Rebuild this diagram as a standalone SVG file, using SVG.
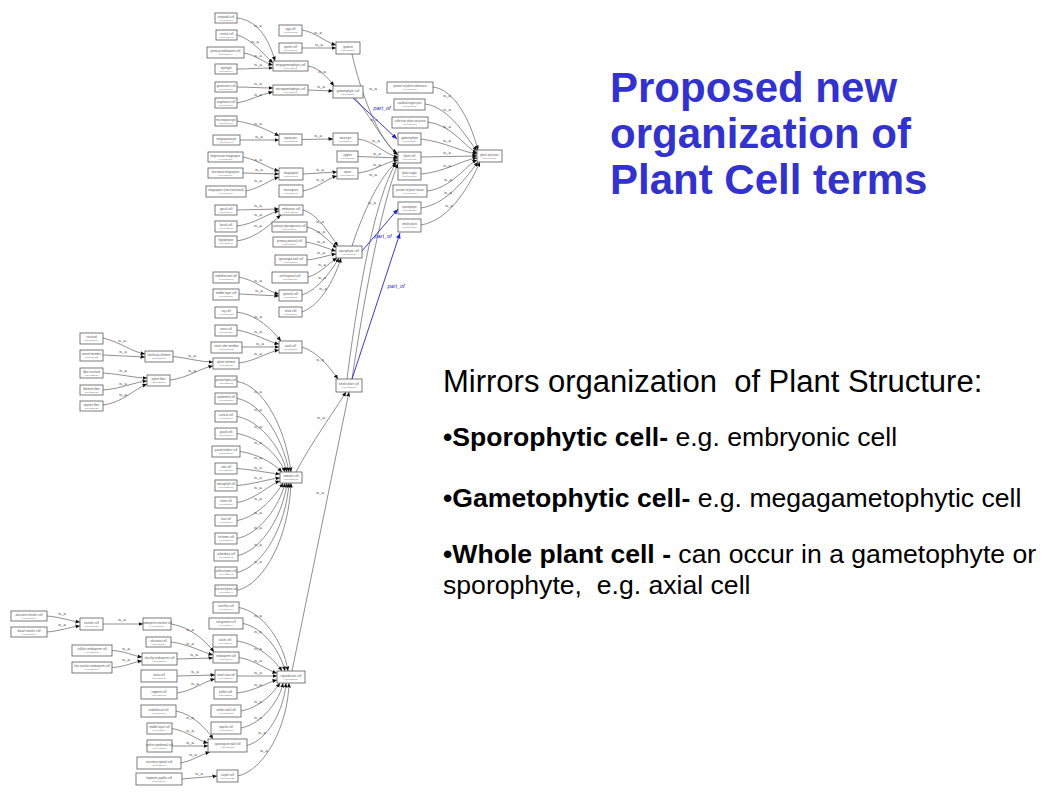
<svg xmlns="http://www.w3.org/2000/svg" width="1058" height="793" viewBox="0 0 1058 793">
<defs>
<marker id="ah" markerUnits="userSpaceOnUse" markerWidth="6" markerHeight="5" refX="4.5" refY="2.2" orient="auto"><path d="M0,0.2 L4.5,2.2 L0,4.2z" fill="#111"/></marker>
<marker id="ahb" markerUnits="userSpaceOnUse" markerWidth="7" markerHeight="6" refX="5.5" refY="2.7" orient="auto"><path d="M0,0.4 L5.5,2.7 L0,5z" fill="#2424c8"/></marker>
</defs>
<style>
.n rect{fill:#fff;stroke:#5a5a5a;stroke-width:0.8}
.n text{font-family:"Liberation Sans",Arial,sans-serif;font-size:2.9px;fill:#555;text-anchor:middle}
.n text.i{font-size:2.5px;fill:#777}
.e{fill:none;stroke:#5e5e5e;stroke-width:0.7;marker-end:url(#ah)}
.p{fill:none;stroke:#2424c8;stroke-width:0.9;marker-end:url(#ahb)}
.l text{font-family:"Liberation Sans",Arial,sans-serif;font-size:4.2px;fill:#333;text-anchor:middle}
.l text.pl{font-size:5.5px;fill:#2424c8;font-style:italic}
.title{font-family:"Liberation Sans",Arial,sans-serif;font-size:42px;font-weight:bold;fill:#3333cc}
.body{font-family:"Liberation Sans",Arial,sans-serif;fill:#000}
</style>
<rect width="1058" height="793" fill="#fff"/>

<g id="connectors">
<path class="e" d="M237,18 C256,20 268,36 275,61"/>
<path class="e" d="M237,35 C252,39 263,54 273,63"/>
<path class="e" d="M244,53 C256,55 264,63 273,65"/>
<path class="e" d="M237,69 C250,69 260,68 273,68"/>
<path class="e" d="M237,87 C250,87 260,88 273,88"/>
<path class="e" d="M237,103 C250,101 260,94 273,92"/>
<path class="e" d="M302,30 C315,32 325,42 336,45"/>
<path class="e" d="M302,48 L336,48"/>
<path class="e" d="M308,66 C320,68 328,78 334,86"/>
<path class="e" d="M308,90 L333,91"/>
<path class="e" d="M237,121 C255,124 268,130 279,136"/>
<path class="e" d="M240,140 L279,140"/>
<path class="e" d="M302,139.5 L333,139"/>
<path class="e" d="M243,157 C258,160 268,168 279,171"/>
<path class="e" d="M243,173 L279,174"/>
<path class="e" d="M246,191 C260,188 270,180 279,177"/>
<path class="e" d="M303,174 L337,172"/>
<path class="e" d="M303,191 C318,188 328,178 337,176"/>
<path class="e" d="M237,210 L279,209"/>
<path class="e" d="M237,226 C255,224 268,213 279,211"/>
<path class="e" d="M237,241 C258,238 272,222 281,215"/>
<path class="e" d="M303,210 C318,214 330,235 338,246"/>
<path class="e" d="M307,227 C320,230 330,243 337,248"/>
<path class="e" d="M306,242 C318,244 328,249 336,251"/>
<path class="e" d="M307,260 C318,259 328,255 336,254"/>
<path class="e" d="M308,277 C320,274 330,262 337,258"/>
<path class="e" d="M302,295 C318,290 332,270 339,258"/>
<path class="e" d="M302,312 C322,305 336,275 341,258"/>
<path class="e" d="M239,277 C255,280 268,292 279,294"/>
<path class="e" d="M239,294 L279,296"/>
<path class="e" d="M352,54 C360,90 378,140 397,153"/>
<path class="e" d="M355,98 C370,115 385,145 398,155"/>
<path class="e" d="M358,139 C375,141 385,155 398,157"/>
<path class="e" d="M358,156.5 L398,158"/>
<path class="e" d="M358,173 C375,171 385,162 398,160"/>
<path class="e" d="M352,246 C362,215 380,175 397,162"/>
<path class="e" d="M347,379 C357,300 374,200 396,163"/>
<path class="e" d="M352,379 C363,305 381,205 398,163.5"/>
<path class="p" d="M353,98 L397,139"/>
<path class="p" d="M362,251 L398,209"/>
<path class="p" d="M352,379 L400,233"/>
<path class="e" d="M433,87 C455,90 470,120 478,150"/>
<path class="e" d="M425,104 C450,107 468,140 477,151"/>
<path class="e" d="M428,122 C452,125 466,148 477,153"/>
<path class="e" d="M421,139 C445,142 462,152 477,154"/>
<path class="e" d="M421,157 L477,156"/>
<path class="e" d="M421,174 C445,172 462,160 477,158"/>
<path class="e" d="M427,191 C452,188 466,165 477,160"/>
<path class="e" d="M421,208 C448,204 468,175 478,162"/>
<path class="e" d="M421,225 C452,220 472,180 480,162"/>
<path class="e" d="M237,312 C258,315 272,330 281,341"/>
<path class="e" d="M237,330 C255,333 268,342 279,344"/>
<path class="e" d="M242,347 L279,347"/>
<path class="e" d="M239,363 C255,361 268,352 279,350"/>
<path class="e" d="M103,338 C120,342 132,352 145,354"/>
<path class="e" d="M103,355 L145,357"/>
<path class="e" d="M103,373 C120,374 135,378 147,378"/>
<path class="e" d="M103,390 C120,389 135,382 147,381"/>
<path class="e" d="M103,405 C122,403 136,388 147,384"/>
<path class="e" d="M173,356.5 C188,358 200,362 213,362"/>
<path class="e" d="M170,380 C188,378 200,368 213,366"/>
<path class="e" d="M302,347 C318,352 330,368 338,379"/>
<path class="e" d="M296,472 C310,445 335,410 346,392"/>
<path class="e" d="M292,671 L349,392"/>
<path class="e" d="M237,381.5 C262,385 285,425 291,472"/>
<path class="e" d="M237,398.5 C260,402 282,435 289,472"/>
<path class="e" d="M237,416.5 C258,420 280,445 287,472"/>
<path class="e" d="M237,433.5 C257,437 277,452 285,472"/>
<path class="e" d="M240,451.5 C257,454 272,462 282,472"/>
<path class="e" d="M237,468.5 C255,470 268,473 280,474"/>
<path class="e" d="M237,485.5 C255,484 268,479 280,478"/>
<path class="e" d="M237,502.5 C255,500 270,484 280,481"/>
<path class="e" d="M237,520.5 C258,517 276,495 283,483"/>
<path class="e" d="M237,538.5 C260,534 280,505 285,483"/>
<path class="e" d="M238,555.5 C262,550 283,515 287,483"/>
<path class="e" d="M237,572.5 C264,566 286,525 289,483"/>
<path class="e" d="M237,590.5 C266,583 289,535 291,483"/>
<path class="e" d="M239,607.5 C262,612 283,640 288,671"/>
<path class="e" d="M243,623.5 C262,627 280,650 285,671"/>
<path class="e" d="M237,641 C258,644 275,660 282,671"/>
<path class="e" d="M239,657.5 C255,660 268,671 277,673"/>
<path class="e" d="M237,676 L277,676"/>
<path class="e" d="M237,693 C255,691 268,682 277,680"/>
<path class="e" d="M241,711 C260,708 274,692 280,683"/>
<path class="e" d="M241,728 C262,724 280,700 283,683"/>
<path class="e" d="M247,745.5 C268,740 284,710 286,683"/>
<path class="e" d="M238,776 C265,770 288,725 289,683"/>
<path class="e" d="M171,624 C190,627 205,640 214,652"/>
<path class="e" d="M171,642 C188,644 202,652 213,655"/>
<path class="e" d="M177,659 L213,658"/>
<path class="e" d="M177,676 L215,675"/>
<path class="e" d="M177,693 C192,691 205,681 215,679"/>
<path class="e" d="M176,711 C192,714 206,728 213,739"/>
<path class="e" d="M172,728.5 C187,731 199,741 208,743"/>
<path class="e" d="M172,746 L208,746"/>
<path class="e" d="M181,763 C192,761 202,754 210,752"/>
<path class="e" d="M182,779 L217,776"/>
<path class="e" d="M112,650.5 C125,651 133,656 142,657"/>
<path class="e" d="M112,667.5 C125,667 133,662 142,661"/>
<path class="e" d="M103,624 L143,624"/>
<path class="e" d="M47,616 C60,617 70,621 80,622"/>
<path class="e" d="M47,632 C60,631 70,627 80,626"/>
<g class="l">
<text x="258" y="27">is_a</text><text x="255" y="43">is_a</text><text x="258" y="57">is_a</text><text x="258" y="66">is_a</text>
<text x="258" y="85">is_a</text><text x="258" y="96">is_a</text><text x="318" y="34">is_a</text><text x="319" y="46">is_a</text>
<text x="322" y="73">is_a</text><text x="321" y="88">is_a</text><text x="258" y="125">is_a</text><text x="259" y="138">is_a</text>
<text x="318" y="137">is_a</text><text x="258" y="161">is_a</text><text x="259" y="171">is_a</text><text x="258" y="182">is_a</text>
<text x="320" y="171">is_a</text><text x="320" y="181">is_a</text><text x="258" y="207">is_a</text><text x="258" y="216">is_a</text>
<text x="258" y="227">is_a</text><text x="320" y="223">is_a</text><text x="321" y="233">is_a</text><text x="321" y="243">is_a</text>
<text x="321" y="254">is_a</text><text x="322" y="266">is_a</text><text x="322" y="279">is_a</text><text x="323" y="290">is_a</text>
<text x="258" y="282">is_a</text><text x="259" y="292">is_a</text>
<text x="373" y="90">is_a</text><text x="374" y="121">is_a</text><text x="376" y="142">is_a</text><text x="377" y="155">is_a</text>
<text x="377" y="166">is_a</text><text x="372" y="204">is_a</text><text x="373" y="176">is_a</text>
<text class="pl" x="382" y="110">part_of</text><text class="pl" x="383" y="238">part_of</text><text class="pl" x="396" y="288">part_of</text>
<text x="447" y="97">is_a</text><text x="447" y="111">is_a</text><text x="447" y="128">is_a</text><text x="447" y="142">is_a</text>
<text x="447" y="154">is_a</text><text x="447" y="167">is_a</text><text x="448" y="181">is_a</text><text x="448" y="194">is_a</text>
<text x="449" y="207">is_a</text>
<text x="258" y="318">is_a</text><text x="258" y="333">is_a</text><text x="260" y="345">is_a</text><text x="258" y="355">is_a</text>
<text x="122" y="342">is_a</text><text x="123" y="353">is_a</text><text x="123" y="372">is_a</text><text x="123" y="385">is_a</text>
<text x="123" y="396">is_a</text><text x="192" y="357">is_a</text><text x="192" y="372">is_a</text><text x="320" y="361">is_a</text>
<text x="321" y="419">is_a</text><text x="320" y="494">is_a</text>
<text x="258" y="393">is_a</text><text x="258" y="411">is_a</text><text x="258" y="428">is_a</text><text x="258" y="444">is_a</text>
<text x="258" y="459">is_a</text><text x="258" y="469">is_a</text><text x="258" y="479">is_a</text><text x="258" y="489">is_a</text>
<text x="258" y="500">is_a</text><text x="258" y="514">is_a</text><text x="258" y="529">is_a</text><text x="258" y="546">is_a</text>
<text x="258" y="563">is_a</text>
<text x="258" y="617">is_a</text><text x="258" y="633">is_a</text><text x="258" y="650">is_a</text><text x="258" y="662">is_a</text>
<text x="258" y="674">is_a</text><text x="258" y="686">is_a</text><text x="258" y="703">is_a</text><text x="258" y="719">is_a</text>
<text x="262" y="734">is_a</text><text x="264" y="752">is_a</text>
<text x="190" y="631">is_a</text><text x="190" y="645">is_a</text><text x="194" y="656">is_a</text><text x="195" y="673">is_a</text>
<text x="195" y="685">is_a</text><text x="190" y="719">is_a</text><text x="190" y="732">is_a</text><text x="190" y="744">is_a</text>
<text x="193" y="756">is_a</text><text x="199" y="775">is_a</text><text x="126" y="650">is_a</text><text x="126" y="661">is_a</text>
<text x="122" y="621">is_a</text><text x="62" y="615">is_a</text><text x="62" y="626">is_a</text>
</g>
</g>

<g id="nodes" class="n">
<g id="n-a1"><rect x="215" y="13" width="22" height="10"/><text x="226" y="17.7">antipodal cell</text><text class="i" x="226" y="20.9">PO:0020093</text></g>
<g id="n-a2"><rect x="216" y="30" width="21" height="10"/><text x="226.5" y="34.7">central cell</text><text class="i" x="226.5" y="37.9">PO:0020095</text></g>
<g id="n-a3"><rect x="207" y="47" width="37" height="11"/><text x="225.5" y="52.2">primary endosperm cell</text><text class="i" x="225.5" y="55.4">PO:0020096</text></g>
<g id="n-a4"><rect x="215" y="64" width="22" height="10"/><text x="226" y="68.7">synergid</text><text class="i" x="226" y="71.9">PO:0020094</text></g>
<g id="n-a5"><rect x="215" y="82" width="22" height="10"/><text x="226" y="86.7">generative cell</text><text class="i" x="226" y="89.9">PO:0020099</text></g>
<g id="n-a6"><rect x="215" y="98" width="22" height="10"/><text x="226" y="102.7">vegetative cell</text><text class="i" x="226" y="105.9">PO:0020098</text></g>
<g id="n-a7"><rect x="215" y="116" width="22" height="10"/><text x="226" y="120.7">microsporocyte</text><text class="i" x="226" y="123.9">PO:0020100</text></g>
<g id="n-egg"><rect x="279" y="25" width="23" height="11"/><text x="290.5" y="30.2">egg cell</text><text class="i" x="290.5" y="33.4">PO:0020092</text></g>
<g id="n-sperm"><rect x="279" y="43" width="23" height="10"/><text x="290.5" y="47.7">sperm cell</text><text class="i" x="290.5" y="50.9">PO:0020097</text></g>
<g id="n-mega"><rect x="273" y="61" width="35" height="10"/><text x="290.5" y="65.7">megagametophytic cell</text><text class="i" x="290.5" y="68.9">PO:0025600</text></g>
<g id="n-micro"><rect x="273" y="85" width="35" height="10"/><text x="290.5" y="89.7">microgametophytic cell</text><text class="i" x="290.5" y="92.9">PO:0025601</text></g>
<g id="n-gamete"><rect x="336" y="42" width="24" height="12"/><text x="348" y="47.7">gamete</text><text class="i" x="348" y="50.9">PO:0025006</text></g>
<g id="n-gam"><rect x="333" y="86" width="30" height="12"/><text x="348" y="91.7">gametophytic cell</text><text class="i" x="348" y="94.9">PO:0025599</text></g>
<g id="n-r1"><rect x="387" y="82" width="46" height="11"/><text x="410" y="87.2">portion of plant substance</text><text class="i" x="410" y="90.4">PO:0025161</text></g>
<g id="n-r2"><rect x="394" y="99" width="31" height="11"/><text x="409.5" y="104.2">cardinal organ part</text><text class="i" x="409.5" y="107.4">PO:0025001</text></g>
<g id="n-r3"><rect x="392" y="117" width="36" height="11"/><text x="410" y="122.2">collective plant structure</text><text class="i" x="410" y="125.4">PO:0025007</text></g>
<g id="n-r4"><rect x="398" y="133" width="23" height="12"/><text x="409.5" y="138.7">gametophyte</text><text class="i" x="409.5" y="141.9">PO:0025279</text></g>
<g id="n-r5"><rect x="398" y="152" width="23" height="11"/><text x="409.5" y="157.2">plant cell</text><text class="i" x="409.5" y="160.4">PO:0009002</text></g>
<g id="n-r6"><rect x="398" y="168" width="23" height="12"/><text x="409.5" y="173.7">plant organ</text><text class="i" x="409.5" y="176.9">PO:0009008</text></g>
<g id="n-r7"><rect x="393" y="185" width="34" height="12"/><text x="410" y="190.7">portion of plant tissue</text><text class="i" x="410" y="193.9">PO:0009007</text></g>
<g id="n-r8"><rect x="398" y="202" width="23" height="12"/><text x="409.5" y="207.7">sporophyte</text><text class="i" x="409.5" y="210.9">PO:0025280</text></g>
<g id="n-r9"><rect x="398" y="219" width="23" height="13"/><text x="409.5" y="225.2">whole plant</text><text class="i" x="409.5" y="228.4">PO:0000003</text></g>
<g id="n-ps"><rect x="477" y="150" width="25" height="12"/><text x="489.5" y="155.7">plant structure</text><text class="i" x="489.5" y="158.9">PO:0009011</text></g>
<g id="n-t1"><rect x="279" y="134" width="23" height="11"/><text x="290.5" y="139.2">sporocyte</text><text class="i" x="290.5" y="142.4">PO:0025602</text></g>
<g id="n-b1"><rect x="213" y="135" width="27" height="10"/><text x="226.5" y="139.7">megasporocyte</text><text class="i" x="226.5" y="142.9">PO:0020103</text></g>
<g id="n-t2"><rect x="333" y="133" width="25" height="12"/><text x="345.5" y="138.7">meiocyte</text><text class="i" x="345.5" y="141.9">PO:0025604</text></g>
<g id="n-t3"><rect x="337" y="151" width="21" height="11"/><text x="347.5" y="156.2">zygote</text><text class="i" x="347.5" y="159.4">PO:0025605</text></g>
<g id="n-t4"><rect x="337" y="168" width="21" height="11"/><text x="347.5" y="173.2">spore</text><text class="i" x="347.5" y="176.4">PO:0025606</text></g>
<g id="n-b2"><rect x="208" y="152" width="35" height="10"/><text x="225.5" y="156.7">degenerate megaspore</text><text class="i" x="225.5" y="159.9">PO:0020108</text></g>
<g id="n-b3"><rect x="208" y="168" width="35" height="10"/><text x="225.5" y="172.7">functional megaspore</text><text class="i" x="225.5" y="175.9">PO:0020107</text></g>
<g id="n-b4"><rect x="206" y="186" width="40" height="11"/><text x="226" y="191.2">megaspore (non-functional)</text><text class="i" x="226" y="194.4">PO:0020109</text></g>
<g id="n-msp"><rect x="279" y="168" width="24" height="12"/><text x="291" y="173.7">megaspore</text><text class="i" x="291" y="176.9">PO:0020106</text></g>
<g id="n-n185"><rect x="279" y="185" width="24" height="12"/><text x="291" y="190.7">microspore</text><text class="i" x="291" y="193.9">PO:0020048</text></g>
<g id="n-b5"><rect x="215" y="205" width="22" height="10"/><text x="226" y="209.7">apical cell</text><text class="i" x="226" y="212.9">PO:0025614</text></g>
<g id="n-b6"><rect x="215" y="221" width="22" height="11"/><text x="226" y="226.2">basal cell</text><text class="i" x="226" y="229.4">PO:0025615</text></g>
<g id="n-b7"><rect x="215" y="236" width="22" height="11"/><text x="226" y="241.2">hypophysis</text><text class="i" x="226" y="244.4">PO:0025616</text></g>
<g id="n-emb"><rect x="279" y="205" width="24" height="10"/><text x="291" y="209.7">embryonic cell</text><text class="i" x="291" y="212.9">PO:0025608</text></g>
<g id="n-c222"><rect x="272" y="222" width="35" height="10"/><text x="289.5" y="226.7">primary sporogenous cell</text><text class="i" x="289.5" y="229.9">PO:0025609</text></g>
<g id="n-c237"><rect x="273" y="237" width="33" height="10"/><text x="289.5" y="241.7">primary parietal cell</text><text class="i" x="289.5" y="244.9">PO:0025610</text></g>
<g id="n-c255"><rect x="275" y="255" width="32" height="10"/><text x="291" y="259.7">sporangial wall cell</text><text class="i" x="291" y="262.9">PO:0025611</text></g>
<g id="n-c272"><rect x="272" y="272" width="36" height="11"/><text x="290" y="277.2">archesporial cell</text><text class="i" x="290" y="280.4">PO:0025612</text></g>
<g id="n-pP"><rect x="279" y="290" width="23" height="11"/><text x="290.5" y="295.2">parietal cell</text><text class="i" x="290.5" y="298.4">PO:0025613</text></g>
<g id="n-c307"><rect x="279" y="307" width="23" height="10"/><text x="290.5" y="311.7">initial cell</text><text class="i" x="290.5" y="314.9">PO:0025617</text></g>
<g id="n-d272"><rect x="213" y="272" width="26" height="11"/><text x="226" y="277.2">endothecium cell</text><text class="i" x="226" y="280.4">PO:0025618</text></g>
<g id="n-d289"><rect x="213" y="289" width="26" height="11"/><text x="226" y="294.2">middle layer cell</text><text class="i" x="226" y="297.4">PO:0025619</text></g>
<g id="n-S"><rect x="336" y="246" width="26" height="12"/><text x="349" y="251.7">sporophytic cell</text><text class="i" x="349" y="254.9">PO:0025607</text></g>
<g id="n-w1"><rect x="215" y="307" width="22" height="11"/><text x="226" y="312.2">ray cell</text><text class="i" x="226" y="315.4">PO:0025620</text></g>
<g id="n-w2"><rect x="215" y="325" width="22" height="11"/><text x="226" y="330.2">sieve cell</text><text class="i" x="226" y="333.4">PO:0025621</text></g>
<g id="n-w3"><rect x="211" y="342" width="31" height="11"/><text x="226.5" y="347.2">sieve tube member</text><text class="i" x="226.5" y="350.4">PO:0025622</text></g>
<g id="n-w4"><rect x="213" y="358" width="26" height="11"/><text x="226" y="363.2">xylem element</text><text class="i" x="226" y="366.4">PO:0025623</text></g>
<g id="n-l1"><rect x="80" y="333" width="23" height="11"/><text x="91.5" y="338.2">tracheid</text><text class="i" x="91.5" y="341.4">PO:0025624</text></g>
<g id="n-l2"><rect x="80" y="350" width="23" height="11"/><text x="91.5" y="355.2">vessel member</text><text class="i" x="91.5" y="358.4">PO:0025625</text></g>
<g id="n-l3"><rect x="80" y="368" width="23" height="10"/><text x="91.5" y="372.7">fiber tracheid</text><text class="i" x="91.5" y="375.9">PO:0025626</text></g>
<g id="n-l4"><rect x="80" y="385" width="23" height="10"/><text x="91.5" y="389.7">libriform fiber</text><text class="i" x="91.5" y="392.9">PO:0025627</text></g>
<g id="n-l5"><rect x="80" y="401" width="23" height="10"/><text x="91.5" y="405.7">septate fiber</text><text class="i" x="91.5" y="408.9">PO:0025628</text></g>
<g id="n-x1"><rect x="145" y="351" width="28" height="11"/><text x="159" y="356.2">tracheary element</text><text class="i" x="159" y="359.4">PO:0025629</text></g>
<g id="n-x2"><rect x="147" y="375" width="23" height="11"/><text x="158.5" y="380.2">xylem fiber</text><text class="i" x="158.5" y="383.4">PO:0025630</text></g>
<g id="n-ax"><rect x="279" y="341" width="23" height="12"/><text x="290.5" y="346.7">axial cell</text><text class="i" x="290.5" y="349.9">PO:0025631</text></g>
<g id="n-wpc"><rect x="336" y="379" width="26" height="13"/><text x="349" y="385.2">whole plant cell</text><text class="i" x="349" y="388.4">PO:0025598</text></g>
<g id="n-s1"><rect x="215" y="376" width="22" height="11"/><text x="226" y="381.2">parenchyma cell</text><text class="i" x="226" y="384.4">PO:0025632</text></g>
<g id="n-s2"><rect x="215" y="393" width="22" height="11"/><text x="226" y="398.2">epidermal cell</text><text class="i" x="226" y="401.4">PO:0025633</text></g>
<g id="n-s3"><rect x="215" y="411" width="22" height="11"/><text x="226" y="416.2">cortical cell</text><text class="i" x="226" y="419.4">PO:0025634</text></g>
<g id="n-s4"><rect x="215" y="428" width="22" height="11"/><text x="226" y="433.2">guard cell</text><text class="i" x="226" y="436.4">PO:0025635</text></g>
<g id="n-s5"><rect x="212" y="446" width="28" height="11"/><text x="226" y="451.2">guard mother cell</text><text class="i" x="226" y="454.4">PO:0025636</text></g>
<g id="n-s6"><rect x="215" y="463" width="22" height="11"/><text x="226" y="468.2">root cell</text><text class="i" x="226" y="471.4">PO:0025637</text></g>
<g id="n-s7"><rect x="215" y="480" width="22" height="11"/><text x="226" y="485.2">mesophyll cell</text><text class="i" x="226" y="488.4">PO:0025638</text></g>
<g id="n-s8"><rect x="215" y="497" width="22" height="11"/><text x="226" y="502.2">stem cell</text><text class="i" x="226" y="505.4">PO:0025639</text></g>
<g id="n-s9"><rect x="215" y="515" width="22" height="11"/><text x="226" y="520.2">leaf cell</text><text class="i" x="226" y="523.4">PO:0025640</text></g>
<g id="n-s10"><rect x="215" y="533" width="22" height="11"/><text x="226" y="538.2">trichome cell</text><text class="i" x="226" y="541.4">PO:0025641</text></g>
<g id="n-s11"><rect x="214" y="550" width="24" height="11"/><text x="226" y="555.2">subsidiary cell</text><text class="i" x="226" y="558.4">PO:0025642</text></g>
<g id="n-s12"><rect x="215" y="567" width="22" height="11"/><text x="226" y="572.2">collenchyma cell</text><text class="i" x="226" y="575.4">PO:0025643</text></g>
<g id="n-s13"><rect x="215" y="585" width="22" height="11"/><text x="226" y="590.2">sclerenchyma cell</text><text class="i" x="226" y="593.4">PO:0025644</text></g>
<g id="n-som"><rect x="280" y="472" width="22" height="11"/><text x="291" y="477.2">somatic cell</text><text class="i" x="291" y="480.4">PO:0025645</text></g>
<g id="n-h1"><rect x="213" y="602" width="26" height="11"/><text x="226" y="607.2">nucellus cell</text><text class="i" x="226" y="610.4">PO:0025646</text></g>
<g id="n-h2"><rect x="209" y="618" width="34" height="11"/><text x="226" y="623.2">integument cell</text><text class="i" x="226" y="626.4">PO:0025647</text></g>
<g id="n-h2b"><rect x="213" y="635" width="24" height="12"/><text x="225" y="640.7">ovule cell</text><text class="i" x="225" y="643.9">PO:0025648</text></g>
<g id="n-h3"><rect x="213" y="652" width="26" height="11"/><text x="226" y="657.2">endosperm cell</text><text class="i" x="226" y="660.4">PO:0025649</text></g>
<g id="n-h4"><rect x="215" y="670" width="22" height="12"/><text x="226" y="675.7">seed coat cell</text><text class="i" x="226" y="678.9">PO:0025650</text></g>
<g id="n-h5"><rect x="214" y="687" width="23" height="12"/><text x="225.5" y="692.7">pollen cell</text><text class="i" x="225.5" y="695.9">PO:0025651</text></g>
<g id="n-h6"><rect x="211" y="705" width="30" height="12"/><text x="226" y="710.7">anther wall cell</text><text class="i" x="226" y="713.9">PO:0025652</text></g>
<g id="n-h7"><rect x="211" y="722" width="30" height="12"/><text x="226" y="727.7">tapetal cell</text><text class="i" x="226" y="730.9">PO:0025653</text></g>
<g id="n-j"><rect x="208" y="739" width="39" height="13"/><text x="227.5" y="745.2">sporangium wall cell</text><text class="i" x="227.5" y="748.4">PO:0025654</text></g>
<g id="n-h8"><rect x="217" y="770" width="21" height="12"/><text x="227.5" y="775.7">carpel cell</text><text class="i" x="227.5" y="778.9">PO:0025655</text></g>
<g id="n-B"><rect x="277" y="671" width="28" height="12"/><text x="291" y="676.7">reproductive cell</text><text class="i" x="291" y="679.9">PO:0025656</text></g>
<g id="n-g1"><rect x="80" y="618" width="23" height="12"/><text x="91.5" y="623.7">transfer cell</text><text class="i" x="91.5" y="626.9">PO:0025657</text></g>
<g id="n-g2"><rect x="143" y="618" width="28" height="12"/><text x="157" y="623.7">endosperm transfer cell</text><text class="i" x="157" y="626.9">PO:0025658</text></g>
<g id="n-g3"><rect x="146" y="637" width="25" height="10"/><text x="158.5" y="641.7">aleurone cell</text><text class="i" x="158.5" y="644.9">PO:0025659</text></g>
<g id="n-g4"><rect x="142" y="653" width="35" height="12"/><text x="159.5" y="658.7">starchy endosperm cell</text><text class="i" x="159.5" y="661.9">PO:0025660</text></g>
<g id="n-g5"><rect x="141" y="670" width="36" height="12"/><text x="159" y="675.7">testa cell</text><text class="i" x="159" y="678.9">PO:0025661</text></g>
<g id="n-g6"><rect x="141" y="687" width="36" height="12"/><text x="159" y="692.7">tegmen cell</text><text class="i" x="159" y="695.9">PO:0025662</text></g>
<g id="n-g7"><rect x="141" y="705" width="35" height="12"/><text x="158.5" y="710.7">endothecial cell</text><text class="i" x="158.5" y="713.9">PO:0025663</text></g>
<g id="n-g8"><rect x="147" y="723" width="25" height="11"/><text x="159.5" y="728.2">middle layer cell</text><text class="i" x="159.5" y="731.4">PO:0025664</text></g>
<g id="n-g9"><rect x="147" y="740" width="25" height="12"/><text x="159.5" y="745.7">anther epidermal cell</text><text class="i" x="159.5" y="748.9">PO:0025665</text></g>
<g id="n-g10"><rect x="137" y="757" width="44" height="12"/><text x="159" y="762.7">secretory tapetal cell</text><text class="i" x="159" y="765.9">PO:0025666</text></g>
<g id="n-g11"><rect x="136" y="773" width="46" height="12"/><text x="159" y="778.7">stigmatic papilla cell</text><text class="i" x="159" y="781.9">PO:0025667</text></g>
<g id="n-k1"><rect x="72" y="645" width="40" height="11"/><text x="92" y="650.2">cellular endosperm cell</text><text class="i" x="92" y="653.4">PO:0025668</text></g>
<g id="n-k2"><rect x="72" y="662" width="40" height="11"/><text x="92" y="667.2">free nuclear endosperm cell</text><text class="i" x="92" y="670.4">PO:0025669</text></g>
<g id="n-f1"><rect x="11" y="611" width="36" height="10"/><text x="29" y="615.7">aleurone transfer cell</text><text class="i" x="29" y="618.9">PO:0025670</text></g>
<g id="n-f2"><rect x="11" y="627" width="36" height="10"/><text x="29" y="631.7">basal transfer cell</text><text class="i" x="29" y="634.9">PO:0025671</text></g>
</g>

<g id="title">
<text class="title" x="610" y="102">Proposed new</text>
<text class="title" x="610" y="148">organization of</text>
<text class="title" x="610" y="194">Plant Cell terms</text>
</g>
<g id="notes" class="body">
<text x="443" y="392" font-size="31">Mirrors organization&#160; of Plant Structure:</text>
<text x="443" y="446" font-size="26.6"><tspan font-weight="bold">•Sporophytic cell- </tspan>e.g. embryonic cell</text>
<text x="443" y="507" font-size="26.6"><tspan font-weight="bold">•Gametophytic cell- </tspan>e.g. megagametophytic cell</text>
<text x="443" y="563" font-size="26.6"><tspan font-weight="bold">•Whole plant cell -</tspan> can occur in a gametophyte or</text>
<text x="443" y="594" font-size="26.6">sporophyte,&#160; e.g. axial cell</text>
</g>
</svg>
